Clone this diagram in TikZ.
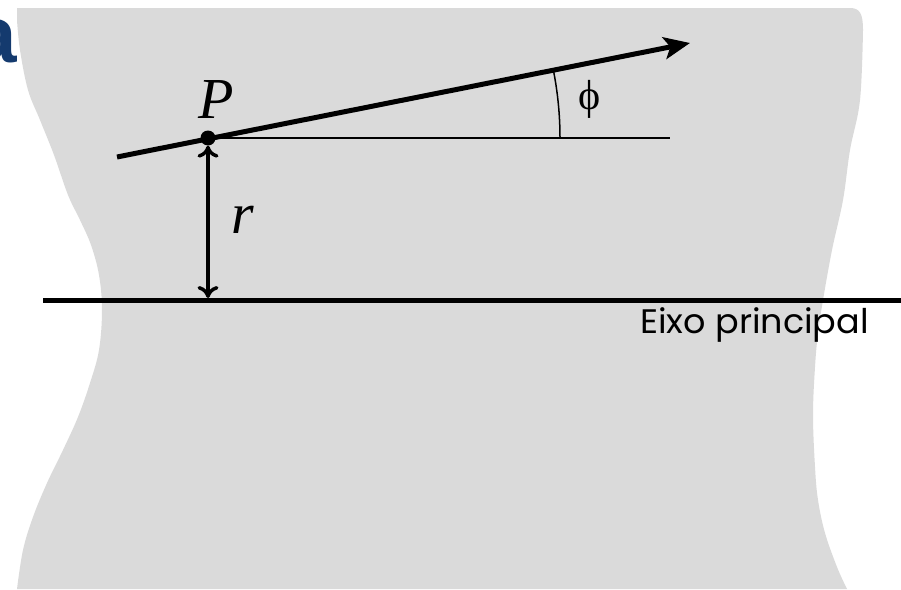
\documentclass[tikz,border=0pt]{standalone}
\usepackage{fontspec}
\usetikzlibrary{arrows.meta}
\newfontfamily\tmsit{Liberation Serif}[ItalicFont={* Italic}]
\newfontfamily\tmsrm{Liberation Serif}
\newfontfamily\gothic{Poppins}
\newfontfamily\titlefont{Liberation Sans}
\definecolor{bgshape}{RGB}{218,218,218}
\definecolor{navy}{RGB}{20,58,110}
\begin{document}
\begin{tikzpicture}[x=1pt,y=-1pt,
  ray/.style={line width=5pt,-{Stealth[length=26pt,width=22pt,inset=6pt]}},
  thin line/.style={line width=1.5pt},
  dimarrow/.style={line width=4pt,{Computer Modern Rightarrow[length=12pt,width=21pt,line width=3.5pt]}-{Computer Modern Rightarrow[length=12pt,width=21pt,line width=3.5pt]}},
  axis line/.style={line width=5pt},
  bigital/.style={font=\fontsize{58}{60}\selectfont\tmsit\itshape, inner sep=0pt},
  label/.style={inner sep=0pt}]
\useasboundingbox (0,0) rectangle (901,589);
% gray background sheet
\fill[bgshape] plot[smooth, tension=0.6] coordinates {
  (17,589) (23,550) (33,517) (47,483) (63,450) (78,417) (90,383) (99,350)
  (102,310) (99,275) (91,245) (80,220) (68,195) (54,155) (40,120) (28,90)
  (20,50) (17,20)}
  -- (17,8) -- (850,8) .. controls (860,8) and (863,14) .. (863,30)
  -- plot[smooth, tension=0.6] coordinates {
  (863,30) (860,100) (850,150) (843,200) (832,250) (823,300) (818,333)
  (815,367) (813,415) (815,467) (818,500) (825,533) (837,567) (847,589)}
  -- cycle;
% cut-off title letter
\node[label, anchor=base east, text=navy, font=\fontsize{80}{84}\selectfont\titlefont\bfseries] (ttl) at (17,62) {a};
% point P
\node[circle, fill=black, inner sep=0pt, minimum size=15pt] (P) at (208,138) {};
\node[bigital, anchor=base] (Plab) at (216,118) {P};
% ray through P
\coordinate (rs) at (117,157);
\coordinate (re) at (690,43);
\draw[ray] (rs) -- (re);
% horizontal reference
\coordinate (he) at (670,138);
\draw[thin line] (P.center) -- (he);
\draw[thin line] (560,138) arc[start angle=0, end angle=11.2, radius=352pt];
\node[label, font=\fontsize{42}{44}\selectfont\tmsrm] (phi) at (590,99) {ϕ};
% principal axis
\coordinate (ax1) at (43,300);
\coordinate (ax2) at (901,300);
\coordinate (F) at (208,300);
\draw[axis line] (ax1) -- (ax2);
\draw[dimarrow, shorten <=0pt, shorten >=2pt] (P.south) -- (F);
\node[bigital, anchor=base] (rlab) at (243,233) {r};
\node[label, anchor=base west, font=\fontsize{34}{36}\selectfont\gothic] (eixo) at (640,333) {\scalebox{1.03}[1]{Eixo principal}};
\end{tikzpicture}
\end{document}
